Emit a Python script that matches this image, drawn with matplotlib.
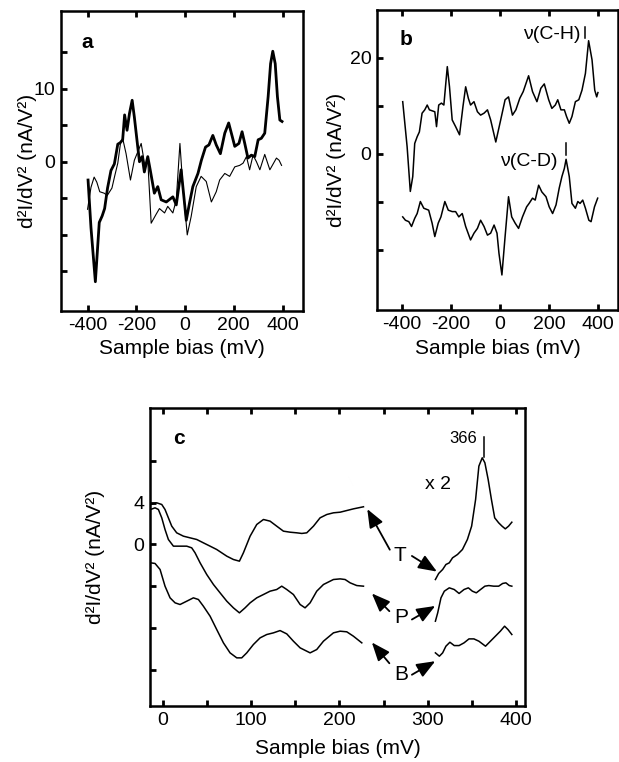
import matplotlib
matplotlib.use('Agg')
import matplotlib.pyplot as plt

plt.rcParams['font.family'] = ['Liberation Sans', 'DejaVu Sans']

# ---------------- Panel a ----------------
a_thick_x = [-398, -386, -368, -352, -340, -330, -318, -304, -290, -276, -266, -256, -248,
             -238, -228, -217, -208, -194, -187, -176, -167, -153, -143, -126, -112, -98,
             -77, -50, -36, -16, 5, 18, 32, 53, 67, 84, 98, 114, 128, 145, 163, 179, 194,
             204, 221, 234, 245, 258, 272, 286, 300, 313, 327, 341, 351, 360, 370, 379, 389, 398]
a_thick_y = [-2.5, -9.0, -16.4, -8.3, -7.4, -6.4, -3.6, -1.2, -0.3, 2.4, 2.6, 3.0, 6.4,
             4.3, 6.6, 8.4, 6.1, 2.0, 0.0, 0.7, -1.4, 0.7, -1.1, -4.3, -3.4, -5.2,
             -5.5, -4.8, -5.9, -1.1, -8.0, -5.7, -3.4, -1.6, 0.2, 2.0, 2.3, 3.6, 2.3, 1.1, 3.9, 5.3, 3.4,
             2.1, 2.5, 4.1, 2.5, 0.5, 0.9, 0.7, 3.0, 3.2, 3.9, 8.9, 13.4, 15.1, 13.4, 8.9, 5.7, 5.5]
a_thin_x = [-400, -386, -373, -362, -350, -332, -319, -300, -289, -276, -265, -256, -242,
            -224, -208, -180, -164, -153, -139, -119, -105, -84, -71, -50, -36, -21, -9, 9,
            25, 46, 66, 87, 108, 128, 142, 163, 183, 204, 224, 238, 252, 265, 279, 293, 307,
            327, 348, 375, 386, 396]
a_thin_y = [-6.5, -3.5, -2.1, -2.8, -4.1, -4.3, -4.6, -3.6, -2.0, -0.2, 2.5, 3.2, 1.1,
            -2.5, 0.2, 2.5, -0.7, 0.2, -8.4, -7.2, -6.4, -7.0, -6.1, -7.0, -5.2, 2.5, -3.4, -10.0,
            -7.5, -3.4, -2.0, -2.7, -5.5, -4.1, -2.5, -1.6, -2.0, -0.7, -0.5, -0.2, 0.7, -1.1, 0.9, 0.0, -1.1,
            1.0, -1.1, 0.5, 0.2, -0.5]

# ---------------- Panel b ----------------
b_ch_x = [-397, -379, -366, -356, -348, -338, -329, -318, -307, -297, -288, -277, -266, -259,
          -250, -239, -229, -215, -206, -195, -181, -165, -151, -140, -129, -120, -106, -92,
          -79, -65, -51, -38, -17, 3, 21, 35, 51, 65, 81, 95, 117, 133, 151, 167, 181, 199,
          212, 226, 236, 249, 263, 272, 283, 294, 308, 322, 335, 349, 362, 376, 387, 395, 400]
b_ch_y = [10.9, 1.5, -7.8, -4.7, 2.2, 3.6, 4.6, 8.5, 9.2, 10.2, 9.2, 9.0, 8.8, 5.7,
          10.2, 10.6, 10.2, 18.2, 14.0, 7.1, 5.7, 4.0, 9.9, 14.0, 11.6, 10.2, 10.9, 8.8,
          8.1, 8.5, 9.2, 7.1, 2.5, 7.1, 11.3, 11.9, 8.1, 9.2, 11.6, 13.0, 16.3, 13.0, 10.9, 13.7, 14.6, 11.3,
          9.5, 10.2, 11.3, 9.2, 9.2, 7.8, 6.4, 7.8, 10.9, 11.3, 13.3, 16.8, 23.6, 19.6, 13.3, 11.9, 12.8]
b_cd_x = [-397, -386, -372, -361, -348, -338, -325, -311, -291, -277, -266, -252, -241, -225,
          -211, -195, -181, -168, -154, -140, -120, -106, -92, -79, -65, -51, -38, -24, -12,
          -4, 8, 21, 35, 48, 62, 76, 92, 109, 119, 133, 144, 158, 171, 188, 201, 215, 229,
          242, 253, 263, 270, 283, 294, 308, 318, 327, 338, 349, 363, 372, 386, 399]
b_cd_y = [-13.1, -13.8, -14.1, -15.1, -13.4, -12.4, -9.9, -11.3, -11.7, -14.4, -17.2, -14.4, -13.1, -9.9,
          -11.7, -12.0, -12.0, -13.1, -12.4, -15.1, -17.9, -16.5, -15.5, -13.8, -15.1, -16.9, -16.5, -14.8, -16.5,
          -20.7, -25.2, -17.2, -8.9, -13.1, -14.4, -15.5, -13.1, -11.0, -10.3, -9.2, -9.6, -6.5, -7.9, -8.9, -11.0, -12.4, -10.6,
          -7.1, -4.7, -3.0, -1.1, -4.7, -10.3, -11.3, -9.9, -10.3, -9.6, -11.3, -13.8, -14.1, -11.0, -9.2]

# ---------------- Panel c ----------------
c_T_x = [-13.6, -6.8, -1.1, 2.6, 6.4, 10.2, 15.8, 23.4, 30.9, 38.5, 46, 53.6, 61.1, 72.5, 80, 86.8,
         91.3, 98.9, 106.4, 114, 121.5, 129, 136.6, 144.2, 151.7, 157.4, 163, 170.6, 178.1, 185.7,
         193.2, 200.8, 208.3, 215.8, 227.2]
c_T_y = [3.84, 4.0, 3.84, 3.36, 2.56, 1.76, 1.12, 0.8, 0.64, 0.48, 0.16, -0.16, -0.48, -1.12, -1.44, -1.6,
         -0.8, 0.8, 1.92, 2.4, 2.24, 1.76, 1.28, 1.18, 1.12, 1.06, 1.12, 1.76, 2.56, 2.88,
         3.04, 3.1, 3.26, 3.42, 3.62]
c_P_x = [-13.6, -8.7, -4.9, -1.1, 2.6, 6.4, 12.1, 19.6, 27.2, 32.8, 36.6, 42.3, 49.8, 57.4, 64.9, 72.5,
         80, 86.8, 93.2, 98.9, 106.4, 114, 121.5, 129, 134.7, 140.4, 147.9, 155.5, 161.1, 166.8,
         174.3, 181.9, 193.2, 200.8, 206.4, 212.1, 219.6, 227.2]
c_P_y = [3.36, 3.52, 3.36, 2.56, 1.44, 0.48, -0.16, -0.16, -0.16, -0.32, -0.8, -1.76, -2.88, -3.84, -4.64, -5.44,
         -6.08, -6.56, -6.08, -5.6, -5.12, -4.8, -4.48, -4.32, -4.0, -4.32, -4.8, -5.76, -6.08, -5.6,
         -4.48, -3.84, -3.36, -3.3, -3.36, -3.68, -3.94, -4.0]
c_B_x = [-13.6, -8.7, -3.0, 2.6, 8.3, 14, 19.6, 27.2, 34.7, 40.4, 46, 53.6, 61.1, 68.7, 76.2, 83.8,
         89.4, 95.1, 102.6, 110.2, 117.7, 125.3, 132.8, 140.4, 147.9, 155.5, 166.8, 174.3, 181.9,
         193.2, 200.8, 208.3, 215.8, 225.3]
c_B_y = [-1.76, -1.82, -2.4, -4.0, -5.12, -5.6, -5.76, -5.44, -5.12, -5.28, -5.92, -6.88, -8.16, -9.44, -10.4, -10.88,
         -10.88, -10.4, -9.6, -8.96, -8.64, -8.48, -8.26, -8.58, -9.28, -9.92, -10.4, -10.08, -9.28,
         -8.48, -8.32, -8.38, -8.8, -9.44]
# x2 segments
c_T2_x = [308.6, 312.3, 316.8, 320.5, 324.3, 328, 333.6, 339.2, 344.8, 349.6, 354.1, 357.8, 361.6,
          364.6, 368.3, 372, 375.7, 380.2, 384, 387.7, 391.4, 395.1]
c_T2_y = [-3.36, -2.78, -2.4, -1.92, -1.76, -1.28, -0.96, -0.48, 0.48, 1.76, 4.32, 7.52, 8.32,
          7.84, 6.24, 4.32, 2.56, 2.08, 1.76, 1.5, 1.76, 2.14]
c_P2_x = [308.6, 311.2, 314.9, 318.7, 324.3, 329.9, 335.4, 341, 345.9, 350.4, 354.9, 359.7, 364.6,
          369, 374.6, 380.2, 384.7, 388.4, 392.2, 395.1]
c_P2_y = [-7.36, -6.56, -5.12, -4.48, -4.16, -4.32, -4.7, -4.32, -4.16, -4.48, -4.64, -4.32, -4.0,
          -3.94, -4.0, -4.0, -3.74, -3.68, -3.94, -4.0]
c_B2_x = [308.6, 313.1, 316.8, 320.5, 325, 329.9, 335.4, 341, 346.6, 352.2, 357.8, 365.3, 370.9,
          376.5, 382.1, 386.9, 390.7, 395.1]
c_B2_y = [-10.4, -10.72, -10.4, -9.76, -9.38, -9.7, -9.7, -9.44, -9.06, -9.06, -9.28, -9.76, -9.28,
          -8.8, -8.32, -7.84, -8.16, -8.64]

# ticks
ab_xticks = [-400, -200, 0, 200, 400]
ab_xticklabels = ['-400', '-200', '0', '200', '400']
a_yticks = [-15, -10, -5, 0, 5, 10, 15]
a_yticklabels = ['', '', '', '0', '', '10', '']
b_yticks = [-20, -10, 0, 10, 20]
b_yticklabels = ['', '', '0', '', '20']
c_xticks = [0, 50, 100, 150, 200, 250, 300, 350, 400]
c_xticklabels = ['0', '', '100', '', '200', '', '300', '', '400']
c_yticks = [-12, -8, -4, 0, 4, 8]
c_yticklabels = ['', '', '', '0', '4', '']

ylabel = 'd\u00b2I/dV\u00b2 (nA/V\u00b2)'
xlabel = 'Sample bias (mV)'

W, H = 619, 762
fig = plt.figure(figsize=(W / 100, H / 100), dpi=100)


def box(x0, y0, x1, y1):
    return [x0 / W, 1 - y1 / H, (x1 - x0) / W, (y1 - y0) / H]


def style(ax):
    for s in ax.spines.values():
        s.set_linewidth(1.8)
    ax.tick_params(direction='in', length=4, width=2, top=True, right=False,
                   labelsize=14, pad=4)


ax_a = fig.add_axes(box(61, 11, 303, 311))
ax_b = fig.add_axes(box(377, 10, 618, 310))
ax_c = fig.add_axes(box(150, 408, 525, 706))

# panel a
ax_a.plot(a_thin_x, a_thin_y, color='k', lw=0.8)
ax_a.plot(a_thick_x, a_thick_y, color='k', lw=2.0)
ax_a.set_xlim(-509, 484)
ax_a.set_ylim(-20.4, 20.6)
ax_a.set_xticks(ab_xticks, ab_xticklabels)
ax_a.set_yticks(a_yticks, a_yticklabels)
style(ax_a)
ax_a.set_xlabel(xlabel, fontsize=15)
ax_a.set_ylabel(ylabel, fontsize=15)
ax_a.yaxis.set_label_coords(-0.1, 0.5)
ax_a.xaxis.set_label_coords(0.5, -0.095)
ax_a.text(0.108, 0.895, 'a', transform=ax_a.transAxes, fontsize=15, fontweight='bold',
          ha='center', va='center')

# panel b
ax_b.plot(b_ch_x, b_ch_y, color='k', lw=1.1)
ax_b.plot(b_cd_x, b_cd_y, color='k', lw=1.1)
ax_b.set_xlim(-502, 482)
ax_b.set_ylim(-32.5, 30)
ax_b.set_xticks(ab_xticks, ab_xticklabels)
ax_b.set_yticks(b_yticks, b_yticklabels)
style(ax_b)
ax_b.set_xlabel(xlabel, fontsize=15)
ax_b.set_ylabel(ylabel, fontsize=15)
ax_b.yaxis.set_label_coords(-0.13, 0.5)
ax_b.xaxis.set_label_coords(0.5, -0.095)
ax_b.text(0.12, 0.903, 'b', transform=ax_b.transAxes, fontsize=15, fontweight='bold',
          ha='center', va='center')
ax_b.text(210, 24.8, '\u03bd(C-H)', fontsize=14, ha='center', va='center')
ax_b.plot([348, 348], [24.2, 26.4], color='k', lw=1.1)
ax_b.text(116, -1.6, '\u03bd(C-D)', fontsize=14, ha='center', va='center')
ax_b.plot([268, 268], [-0.2, 2.2], color='k', lw=1.1)

# panel c
for xs, ys in [(c_T_x, c_T_y), (c_P_x, c_P_y), (c_B_x, c_B_y),
               (c_T2_x, c_T2_y), (c_P2_x, c_P2_y), (c_B2_x, c_B2_y)]:
    ax_c.plot(xs, ys, color='k', lw=1.1)
ax_c.set_xlim(-14.4, 410)
ax_c.set_ylim(-15.5, 13.1)
ax_c.set_xticks(c_xticks, c_xticklabels)
ax_c.set_yticks(c_yticks, c_yticklabels)
style(ax_c)
ax_c.set_xlabel(xlabel, fontsize=15)
ax_c.set_ylabel(ylabel, fontsize=15)
ax_c.yaxis.set_label_coords(-0.12, 0.5)
ax_c.xaxis.set_label_coords(0.5, -0.11)
ax_c.text(0.077, 0.898, 'c', transform=ax_c.transAxes, fontsize=15, fontweight='bold',
          ha='center', va='center')
ax_c.text(340, 10.2, '366', fontsize=12, ha='center', va='center')
ax_c.plot([363.5, 363.5], [8.4, 10.3], color='k', lw=1.1)
ax_c.text(312, 5.8, 'x 2', fontsize=14, ha='center', va='center')

ap = dict(arrowstyle='-|>,head_length=0.75,head_width=0.3', color='k', lw=1.3,
          mutation_scale=15, shrinkA=0, shrinkB=0)
labels = [('T', 268, -1.1, (257, -0.5), (231.5, 3.4), (282, -1.1), (310.3, -2.6)),
          ('P', 270, -7.0, (256.5, -6.4), (236.7, -4.7), (282, -7.2), (308.4, -5.9)),
          ('B', 270, -12.5, (256.5, -11.4), (236.7, -9.4), (282, -12.5), (308.4, -11.2))]
for name, lx, ly, t1, h1, t2, h2 in labels:
    ax_c.text(lx, ly, name, fontsize=15, ha='center', va='center')
    ax_c.annotate('', xy=h1, xytext=t1, arrowprops=ap)
    ax_c.annotate('', xy=h2, xytext=t2, arrowprops=ap)

fig.savefig('out.png', dpi=100)
